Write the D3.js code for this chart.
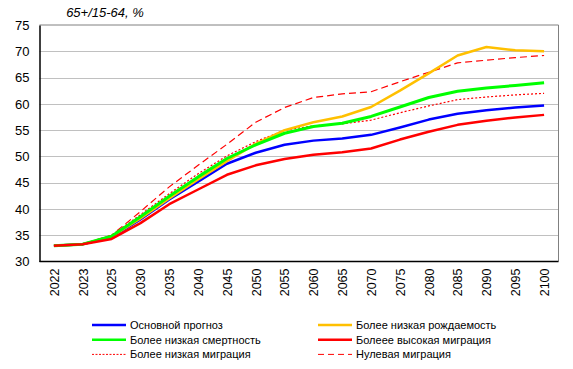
<!DOCTYPE html>
<html><head><meta charset="utf-8">
<script src="https://cdn.jsdelivr.net/npm/d3@7"></script>
<style>body{margin:0;background:#fff;}svg{display:block;font-family:"Liberation Sans",Arial,sans-serif;}</style>
</head><body><svg id="c" width="573" height="369"></svg>
<script>
const years = ["2022","2023","2025","2030","2035","2040","2045","2050","2055","2060","2065","2070","2075","2080","2085","2090","2095","2100"];
const yTicks = [30,35,40,45,50,55,60,65,70,75];
const baseline     = [33.0,33.3,34.6,38.0,41.8,45.2,48.6,50.7,52.2,53.0,53.4,54.1,55.5,57.0,58.1,58.8,59.3,59.7];
const lowFertility = [33.0,33.3,34.7,38.2,42.0,45.6,49.1,52.4,55.0,56.5,57.6,59.4,62.5,65.8,69.2,70.8,70.2,70.0];
const lowMortality = [33.0,33.3,34.8,38.5,42.4,46.1,49.6,52.2,54.4,55.7,56.3,57.6,59.4,61.2,62.4,63.0,63.5,64.0];
const highMigration= [33.0,33.3,34.3,37.3,40.9,43.7,46.5,48.3,49.5,50.3,50.8,51.5,53.2,54.7,56.0,56.8,57.4,57.9];
const lowMigration = [33.0,33.3,35.0,38.9,42.9,46.7,50.1,52.8,55.0,55.8,56.2,56.9,58.3,59.6,60.8,61.3,61.7,62.0];
const zeroMigration= [33.0,33.3,35.0,39.5,44.2,48.3,52.3,56.5,59.3,61.2,61.9,62.3,64.2,66.0,67.8,68.3,68.8,69.2];

const series = [
  {name:"Нулевая миграция", values:zeroMigration, color:"#FF0000", w:1.2, dash:"7,4"},
  {name:"Более низкая миграция", values:lowMigration, color:"#FF0000", w:1.2, dash:"2,2"},
  {name:"Основной прогноз", values:baseline, color:"#0000FF", w:2.5, dash:null},
  {name:"Более низкая рождаемость", values:lowFertility, color:"#FFC000", w:2.5, dash:null},
  {name:"Более низкая смертность", values:lowMortality, color:"#00FF00", w:3, dash:null},
  {name:"Болеее высокая миграция", values:highMigration, color:"#FF0000", w:2.5, dash:null}
];
const legendOrder = ["Основной прогноз","Более низкая рождаемость","Более низкая смертность","Болеее высокая миграция","Более низкая миграция","Нулевая миграция"];

const svg = d3.select("#c");
const L=39.5, R=558.5, T=25, B=261.5;
const x = d3.scalePoint().domain(years).range([L,R]).padding(0.5);
const y = d3.scaleLinear().domain([30,75]).range([B,T]);

// grid
svg.append("g").selectAll("line").data(yTicks.filter(v=>v>30&&v<75)).join("line")
  .attr("x1",L).attr("x2",R).attr("y1",d=>Math.round(y(d))+0.5).attr("y2",d=>Math.round(y(d))+0.5)
  .attr("stroke","#C0C0C0").attr("stroke-width",1);
// frame
svg.append("line").attr("x1",L).attr("x2",R).attr("y1",T).attr("y2",T).attr("stroke","#808080");
svg.append("line").attr("x1",R).attr("x2",R).attr("y1",T).attr("y2",B).attr("stroke","#808080");
// y axis
const ya = svg.append("g").attr("transform",`translate(${L},0)`).call(d3.axisLeft(y).tickValues(yTicks).tickSize(0).tickPadding(10));
ya.select(".domain").attr("stroke","#000").attr("stroke-width",1.5);
ya.selectAll("text").attr("font-size",13).attr("fill","#000").attr("font-family","Liberation Sans, Arial, sans-serif");
// x axis
const xa = svg.append("g").attr("transform",`translate(0,${B})`).call(d3.axisBottom(x).tickSize(0).tickPadding(0));
xa.select(".domain").attr("stroke","#000").attr("stroke-width",1.5).attr("d",`M${L},0H${R}`);
xa.selectAll("text").attr("font-size",12.5).attr("fill","#000").attr("font-family","Liberation Sans, Arial, sans-serif")
  .attr("transform","rotate(-90)").attr("text-anchor","end").attr("x",-7).attr("y",0).attr("dy","0.35em");

// lines
const line = d3.line().x((d,i)=>x(years[i])).y(d=>y(d));
series.forEach(s=>{
  svg.append("path").attr("d",line(s.values)).attr("fill","none").attr("stroke",s.color)
    .attr("stroke-width",s.w).attr("stroke-dasharray",s.dash).attr("stroke-linejoin","round");
});

// title
svg.append("text").attr("x",105).attr("y",17).attr("text-anchor","middle").attr("font-size",13)
  .attr("font-style","italic").text("65+/15-64, %");

// legend
const lg = svg.append("g");
legendOrder.forEach((n,i)=>{
  const s = series.find(d=>d.name===n);
  const col=i%2, row=Math.floor(i/2);
  const lx = col===0?92:318, ly = 325+row*14.7;
  lg.append("line").attr("x1",lx).attr("x2",lx+34).attr("y1",ly).attr("y2",ly)
    .attr("stroke",s.color).attr("stroke-width",s.dash?1:2.5).attr("stroke-dasharray",s.dash?(s.dash==="2,2"?"2,1.5":"6,4"):null);
  lg.append("text").attr("x",lx+38).attr("y",ly).attr("dy","0.35em").attr("font-size",11).text(n);
});
</script></body></html>
